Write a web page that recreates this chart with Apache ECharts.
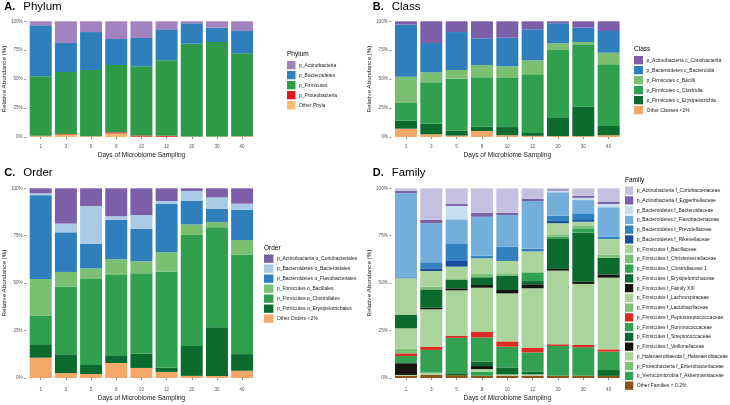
<!DOCTYPE html>
<html><head><meta charset="utf-8">
<script src="https://cdn.jsdelivr.net/npm/echarts/dist/echarts.min.js"></script>
<style>html,body{margin:0;padding:0;background:#fff}#c{width:730px;height:405px}</style>
</head><body><div id="c"></div>
<script>
const FONT = 'Liberation Sans, Arial, Helvetica, sans-serif';
const days = ['1','3','5','8','10','12','20','30','40'];
const yTicks = [0, 25, 50, 75, 100];

// ---- Panel A: Phylum (values in %, per day) ----
const phylumActino  = [3.5, 18.8, 9.3, 15.3, 14.4, 6.9, 1.7, 5.5, 8.4];
const phylumBact    = [44.0, 25.0, 32.8, 22.5, 24.5, 26.8, 17.7, 12.4, 19.3];
const phylumFirm    = [51.5, 53.7, 57.3, 58.2, 59.8, 65.3, 80.2, 81.7, 71.7];
const phylumProteo  = [0.2, 0.5, 0.1, 1.0, 1.0, 0.8, 0.1, 0.1, 0.1];
const phylumOther   = [0.8, 2.0, 0.5, 3.0, 0.3, 0.2, 0.3, 0.3, 0.5];

// ---- Panel B: Class ----
const classCorio    = [2.9, 18.8, 9.3, 14.7, 14.2, 6.9, 1.7, 5.5, 8.4];
const classBact     = [45.0, 25.3, 32.8, 23.1, 24.7, 26.8, 17.3, 12.4, 18.7];
const classBacilli  = [22.7, 8.6, 7.5, 10.6, 10.1, 12.1, 5.8, 2.6, 10.1];
const classClost    = [15.3, 35.8, 45.0, 42.7, 42.4, 50.7, 58.8, 53.3, 53.3];
const classErys     = [6.9, 9.2, 4.2, 3.7, 7.1, 2.5, 15.6, 25.4, 8.0];
const classOther    = [7.2, 2.3, 1.2, 5.2, 1.5, 1.0, 0.8, 0.8, 1.5];

// ---- Panel C: Order ----
const orderCorio    = [2.6, 18.6, 9.3, 14.7, 14.1, 6.7, 1.4, 4.8, 8.1];
const orderBacteroidales = [1.0, 4.6, 19.9, 1.9, 7.3, 1.6, 5.3, 6.1, 3.3];
const orderFlavo    = [44.2, 20.9, 13.0, 20.8, 17.1, 25.4, 12.3, 6.9, 15.9];
const orderBacillales = [19.2, 7.8, 5.6, 8.3, 6.3, 10.1, 5.6, 2.7, 7.6];
const orderClost    = [15.2, 35.6, 45.3, 42.7, 42.4, 50.8, 58.5, 52.8, 52.5];
const orderErys     = [7.1, 9.9, 4.8, 3.7, 7.5, 2.2, 15.8, 25.6, 8.8];
const orderOther    = [10.7, 2.6, 2.1, 7.9, 5.3, 3.2, 1.1, 1.1, 3.8];

// ---- Panel D: Family ----
const famCorio      = [1.3, 16.6, 8.3, 12.9, 12.9, 5.6, 0.5, 3.9, 7.0];
const famEgger      = [1.3, 1.8, 1.0, 2.1, 1.2, 1.1, 0.7, 1.1, 1.3];
const famBacteroidaceae = [0, 0, 7.1, 0, 0, 0, 0.9, 1.2, 1.7];
const famFlavo      = [44.3, 20.6, 12.6, 20.5, 16.6, 25.2, 12.3, 7.0, 15.5];
const famPrevot     = [0.5, 3.2, 9.3, 1.4, 7.6, 1.4, 2.8, 3.5, 1.2];
const famRiken      = [0, 1.4, 3.0, 0, 0, 0, 1.2, 0.9, 0];
const famBacill     = [19.4, 8.3, 6.1, 8.2, 6.5, 10.5, 6.2, 2.3, 8.2];
const famChrist     = [0, 1.4, 0.9, 1.8, 1.2, 0.6, 0.9, 1.2, 1.7];
const famClost1     = [0, 0, 0, 0, 0, 4.5, 1.2, 2.3, 0];
const famErys       = [7.0, 9.7, 4.4, 4.1, 7.6, 1.7, 15.8, 25.8, 8.8];
const famFamXIII    = [0, 0.8, 1.1, 1.4, 1.8, 2.1, 0.9, 1.2, 1.7];
const famLachno     = [10.8, 19.7, 23.9, 23.3, 25.3, 31.3, 38.8, 32.2, 37.8];
const famLacto      = [2.4, 0, 0, 0, 0, 0, 0, 0, 0];
const famPepto      = [1.4, 1.7, 1.1, 2.9, 2.8, 2.5, 0.9, 1.2, 1.2];
const famRumino     = [3.8, 12.0, 18.7, 12.8, 10.9, 10.2, 15.7, 15.0, 9.7];
const famStrep      = [0, 0, 1.0, 2.3, 3.7, 1.4, 0, 0, 3.1];
const famVeillon    = [6.2, 0, 0, 1.6, 0, 0, 0, 0, 0];
const famHalan      = [0.5, 1.2, 0, 1.4, 0.7, 0.7, 0, 0, 0];
const famEntero     = [0, 0, 0, 0, 0, 0, 0, 0, 0];
const famAkk        = [0, 0, 0, 2.1, 0, 0, 0, 0, 0];
const famOther      = [1.1, 1.6, 1.5, 1.2, 1.2, 1.2, 1.2, 1.2, 1.1];

// legend order (top to bottom); stacked in reverse so first item sits on top
const panelA = [
  ['p_Actinobacteria', phylumActino, '#a282bf'],
  ['p_Bacteroidetes', phylumBact, '#2f7fbc'],
  ['p_Firmicutes', phylumFirm, '#2f9a47'],
  ['p_Proteobacteria', phylumProteo, '#e0191f'],
  ['Other Phyla', phylumOther, '#f8b971']
];
const panelB = [
  ['p_Actinobacteria c_Coriobacteriia', classCorio, '#7d5fa9'],
  ['p_Bacteroidetes c_Bacteroidia', classBact, '#2f7fbc'],
  ['p_Firmicutes c_Bacilli', classBacilli, '#7abf72'],
  ['p_Firmicutes c_Clostridia', classClost, '#31a04e'],
  ['p_Firmicutes c_Erysipelotrichia', classErys, '#0b6b2f'],
  ['Other Classes <2%', classOther, '#f4a96a']
];
const panelC = [
  ['p_Actinobacteria o_Coriobacteriales', orderCorio, '#7d5fa9'],
  ['p_Bacteroidetes o_Bacteroidales', orderBacteroidales, '#a9cbe8'],
  ['p_Bacteroidetes o_Flavobacteriales', orderFlavo, '#2f7fbc'],
  ['p_Firmicutes o_Bacillales', orderBacillales, '#7abf72'],
  ['p_Firmicutes o_Clostridiales', orderClost, '#31a04e'],
  ['p_Firmicutes o_Erysipelotrichales', orderErys, '#0b6b2f'],
  ['Other Orders <2%', orderOther, '#f4a96a']
];
const panelD = [
  ['p_Actinobacteria f_Coriobacteriaceae', famCorio, '#c3c1df'],
  ['p_Actinobacteria f_Eggerthellaceae', famEgger, '#7b62a8'],
  ['p_Bacteroidetes f_Bacteroidaceae', famBacteroidaceae, '#c9ddf0'],
  ['p_Bacteroidetes f_Flavobacteriaceae', famFlavo, '#74afdb'],
  ['p_Bacteroidetes f_Prevotellaceae', famPrevot, '#3180bf'],
  ['p_Bacteroidetes f_Rikenellaceae', famRiken, '#174f9c'],
  ['p_Firmicutes f_Bacillaceae', famBacill, '#aad49c'],
  ['p_Firmicutes f_Christensenellaceae', famChrist, '#7bc176'],
  ['p_Firmicutes f_Clostridiaceae 1', famClost1, '#33a152'],
  ['p_Firmicutes f_Erysipelotrichaceae', famErys, '#0b6b2f'],
  ['p_Firmicutes f_Family XIII', famFamXIII, '#15140f'],
  ['p_Firmicutes f_Lachnospiraceae', famLachno, '#aad49c'],
  ['p_Firmicutes f_Lactobacillaceae', famLacto, '#7bc176'],
  ['p_Firmicutes f_Peptostreptococcaceae', famPepto, '#de2a22'],
  ['p_Firmicutes f_Ruminococcaceae', famRumino, '#33a152'],
  ['p_Firmicutes f_Streptococcaceae', famStrep, '#0b6b2f'],
  ['p_Firmicutes f_Veillonellaceae', famVeillon, '#15140f'],
  ['p_Halanaerobiaeota f_Halanaerobiaceae', famHalan, '#aad49c'],
  ['p_Proteobacteria f_Enterobacteriaceae', famEntero, '#7bc176'],
  ['p_Verrucomicrobia f_Akkermansiaceae', famAkk, '#33a152'],
  ['Other Families < 0.2%', famOther, '#8a5516']
];

const panels = [panelA, panelB, panelC, panelD];
const grids = [
  {left: 27.4, top: 21.3, width: 227.3, height: 115.7},
  {left: 393.3, top: 21.3, width: 228, height: 115.7},
  {left: 27.4, top: 188.3, width: 227.3, height: 189.7},
  {left: 393.3, top: 188.3, width: 228, height: 189.7}
];
const xOff = [3.5, 3.5, 6, 6];

const series = [];
panels.forEach((p, gi) => {
  for (let i = p.length - 1; i >= 0; i--) {
    const [name, data, color] = p[i];
    series.push({
      type: 'bar', name, data, stack: 'p' + gi,
      xAxisIndex: gi, yAxisIndex: gi,
      barWidth: 22,
      itemStyle: {color},
      emphasis: {disabled: true},
      silent: true
    });
  }
});

const xAxis = grids.map((g, gi) => ({
  type: 'category', gridIndex: gi, data: days, offset: xOff[gi],
  axisLine: {show: false},
  axisTick: {show: true, alignWithLabel: true, length: 2, lineStyle: {color: '#444', width: 0.6}},
  axisLabel: {fontSize: 4.6, color: '#555', margin: 3.5, fontFamily: FONT},
  name: 'Days of Microbiome Sampling', nameLocation: 'middle', nameGap: 11,
  nameTextStyle: {fontSize: 6.6, color: '#1a1a1a', fontFamily: FONT}
}));
const yAxis = grids.map((g, gi) => ({
  type: 'value', gridIndex: gi, min: yTicks[0], max: yTicks[yTicks.length - 1], interval: 25, offset: 2,
  axisLine: {show: false},
  splitLine: {show: false},
  axisTick: {show: true, length: 2, lineStyle: {color: '#444', width: 0.6}},
  axisLabel: {fontSize: 4.6, color: '#555', margin: 3.5, formatter: '{value}%', fontFamily: FONT},
  name: 'Relative Abundance (%)', nameLocation: 'middle', nameGap: 17, nameRotate: 90,
  nameTextStyle: {fontSize: 6.2, color: '#1a1a1a', fontFamily: FONT}
}));

const legendPos = [
  {left: 287, top: 61, iw: 8.5},
  {left: 634, top: 56, iw: 9},
  {left: 264, top: 254.5, iw: 9.4},
  {left: 625, top: 186.5, iw: 8.3}
];
const legend = panels.map((p, gi) => ({
  orient: 'vertical', left: legendPos[gi].left, top: legendPos[gi].top,
  padding: 0, itemWidth: legendPos[gi].iw, itemHeight: 8.3, itemGap: gi === 3 ? 1.45 : 1.7,
  icon: 'rect', selectedMode: false,
  textStyle: {fontSize: 5, color: '#1a1a1a', fontFamily: FONT, padding: [0, 0, 0, -1.5]},
  data: p.map(d => d[0])
}));

function txt(x, y, text, size, bold) {
  return {type: 'text', x, y, silent: true,
    style: {text, fontSize: size, fontWeight: bold ? 'bold' : 'normal', fontFamily: FONT, fill: '#000', verticalAlign: 'middle'}};
}
const graphic = [
  txt(4.3, 6.5, 'A.', 11, true), txt(23.3, 6.5, 'Phylum', 11.5, false),
  txt(372.7, 6.5, 'B.', 11, true), txt(391.7, 6.5, 'Class', 11.5, false),
  txt(4.3, 172.5, 'C.', 11, true), txt(23.3, 172.5, 'Order', 11.5, false),
  txt(372.7, 172.5, 'D.', 11, true), txt(391.7, 172.5, 'Family', 11.5, false),
  txt(287, 54, 'Phylum', 6.5, false),
  txt(634, 49, 'Class', 6.5, false),
  txt(264, 248, 'Order', 6.5, false),
  txt(625, 180, 'Family', 6.5, false)
];

const chart = echarts.init(document.getElementById('c'), null, {renderer: 'canvas'});
chart.setOption({
  animation: false,
  backgroundColor: '#fff',
  textStyle: {fontFamily: FONT},
  grid: grids,
  xAxis, yAxis, series, legend, graphic
});
</script>
</body></html>
